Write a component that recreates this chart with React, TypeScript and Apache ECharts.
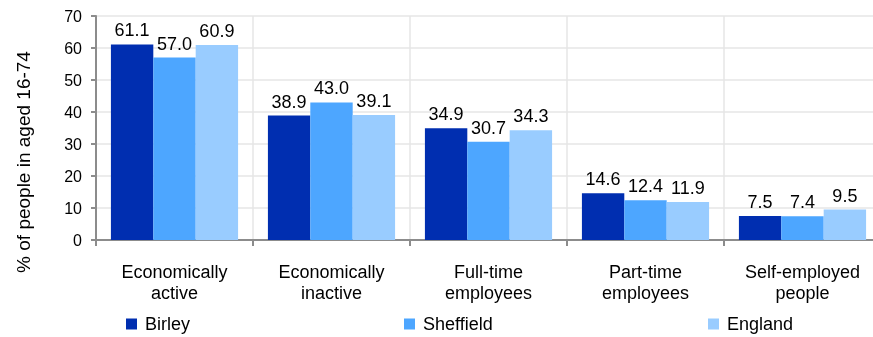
import React, { useEffect, useRef } from "react";
import * as echarts from "echarts";

const categories = [
  "Economically\nactive",
  "Economically\ninactive",
  "Full-time\nemployees",
  "Part-time\nemployees",
  "Self-employed\npeople",
];
const birley = [61.1, 38.9, 34.9, 14.6, 7.5];
const sheffield = [57.0, 43.0, 30.7, 12.4, 7.4];
const england = [60.9, 39.1, 34.3, 11.9, 9.5];
const seriesNames = ["Birley", "Sheffield", "England"];
const colors = ["#002EB0", "#4DA6FF", "#99CCFF"];
const yAxisTitle = "% of people in aged 16-74";

const FONT = "'Liberation Sans', Arial, sans-serif";

export default function App() {
  const ref = useRef<HTMLDivElement>(null);
  useEffect(() => {
    if (!ref.current) return;
    const chart = echarts.init(ref.current, undefined, { renderer: "svg" });
    const data = [birley, sheffield, england];
    const legendLefts = [126, 404, 708];
    chart.setOption({
      animation: false,
      textStyle: { fontFamily: FONT },
      grid: { left: 96, top: 16, width: 785, height: 224 },
      graphic: [
        {
          type: "text",
          x: 23,
          y: 162,
          rotation: Math.PI / 2,
          style: {
            text: yAxisTitle,
            fontSize: 19,
            fontFamily: FONT,
            fill: "#000",
            textAlign: "center",
            textVerticalAlign: "middle",
          },
        },
      ],
      legend: seriesNames.map((n, i) => ({
        data: [n],
        left: legendLefts[i],
        top: 315,
        padding: 0,
        itemWidth: 11,
        itemHeight: 11,
        icon: "rect",
        textStyle: { fontSize: 18, color: "#000", fontFamily: FONT, padding: [0, 0, 0, 3] },
      })),
      xAxis: {
        type: "category",
        data: categories,
        axisLine: { show: true, lineStyle: { color: "#8c8c8c", width: 2 } },
        axisTick: { show: true, length: 6, lineStyle: { color: "#8c8c8c", width: 2 } },
        splitLine: { show: true, lineStyle: { color: "#e6e6e6", width: 1.5 } },
        axisLabel: {
          fontSize: 18,
          color: "#000",
          lineHeight: 21,
          margin: 21,
          interval: 0,
          fontFamily: FONT,
        },
      },
      yAxis: {
        type: "value",
        min: 0,
        max: 70,
        interval: 10,
        axisLine: { show: true, lineStyle: { color: "#8c8c8c", width: 2 } },
        axisTick: { show: true, length: 5, lineStyle: { color: "#8c8c8c", width: 2 } },
        splitLine: { show: true, lineStyle: { color: "#e6e6e6", width: 1.5 } },
        axisLabel: { fontSize: 16, color: "#000", margin: 14, fontFamily: FONT },
      },
      series: seriesNames.map((n, i) => ({
        name: n,
        type: "bar",
        data: data[i],
        barGap: "0%",
        barCategoryGap: "19%",
        itemStyle: { color: colors[i] },
        label: {
          show: true,
          position: "top",
          distance: 5,
          fontSize: 18,
          color: "#000",
          fontFamily: FONT,
          formatter: (p: any) => Number(p.value).toFixed(1),
        },
      })),
    });
    return () => chart.dispose();
  }, []);
  return (
    <div
      style={{
        position: "fixed",
        left: 0,
        top: 0,
        width: 873,
        height: 337,
        overflow: "hidden",
      }}
    >
      <div ref={ref} style={{ width: 900, height: 337 }} />
    </div>
  );
}
